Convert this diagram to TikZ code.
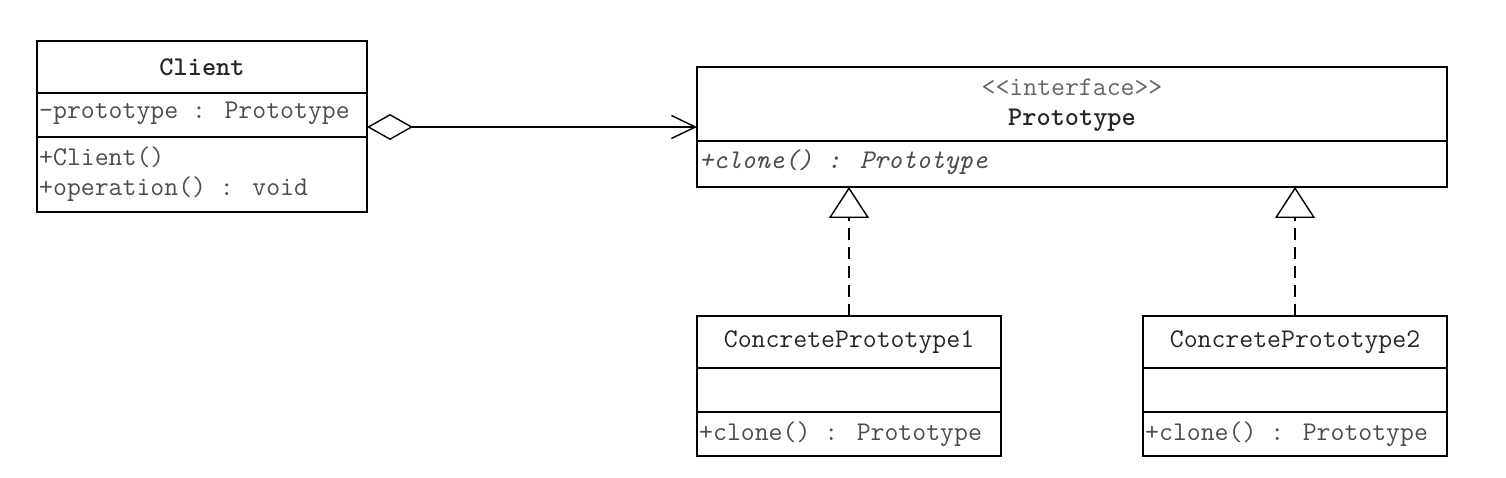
\documentclass[tikz,border=0pt]{standalone}
\usepackage{fontspec}
\usetikzlibrary{arrows.meta,positioning}

\begin{document}
\begin{tikzpicture}[x=1pt,y=1pt,line join=miter,
  cell/.style={draw,line width=1.4pt,inner sep=0pt,outer sep=0pt},
  boldname/.style={font=\fontsize{27}{30}\selectfont\ttfamily\bfseries,text=black!85},
  plainname/.style={font=\fontsize{27}{30}\selectfont\ttfamily,text=black!85},
  member/.style={font=\fontsize{27}{30}\selectfont\ttfamily,text=black!70,anchor=west,inner sep=0pt},
  stereo/.style={font=\fontsize{27}{30}\selectfont\ttfamily,text=black!60},
  aggr/.style={line width=1.4pt,{Diamond[open,length=46pt,width=26pt]}-{Straight Barb[length=24pt,width=23pt]}},
  realize/.style={line width=1.4pt,dash pattern=on 12pt off 7pt,-{Triangle[open,length=31pt,width=40pt]}}]

\useasboundingbox[fill=white] (0,0) rectangle (1506,478);

% Client class.
\node[cell,boldname,minimum width=330pt,minimum height=52pt] (cname) at (202,411) {Client};
\node[cell,minimum width=330pt,minimum height=44pt,below=0pt of cname] (cattr) {};
\node[cell,minimum width=330pt,minimum height=75pt,below=0pt of cattr] (cops) {};
\node[member] at ([xshift=2pt,yshift=2pt]cattr.west) {-prototype : Prototype};
\node[member] at ([xshift=2pt,yshift=17pt]cops.west) {+Client()};
\node[member] at ([xshift=2pt,yshift=-15pt]cops.west) {+operation() : void};

% Prototype interface.
\node[cell,minimum width=750pt,minimum height=74pt] (pname) at (1072,374) {};
\node[stereo] at ([yshift=17pt]pname.center) {\textless\textless interface\textgreater\textgreater};
\node[boldname] at ([yshift=-16pt]pname.center) {Prototype};
\node[cell,minimum width=750pt,minimum height=46pt,below=0pt of pname] (pops) {};
\node[member,font=\fontsize{27}{30}\selectfont\ttfamily\itshape] at ([xshift=2pt,yshift=2pt]pops.west) {+clone() : Prototype};

% Client holds a Prototype.
\draw[aggr] ([yshift=-12pt]cattr.east) -- ([yshift=-12pt]cattr.east -| pname.west);

% Concrete prototypes realize the interface.
\foreach \k/\xx in {1/849,2/1295}
{
  \node[cell,plainname,minimum width=304pt,minimum height=52pt] (cpname\k) at (\xx,136) {ConcretePrototype\k};
  \node[cell,minimum width=304pt,minimum height=44pt,below=0pt of cpname\k] (cpattr\k) {};
  \node[cell,minimum width=304pt,minimum height=44pt,below=0pt of cpattr\k] (cpops\k) {};
  \node[member] at ([xshift=2pt]cpops\k.west) {+clone() : Prototype};
  \draw[realize] (cpname\k.north) -- (cpname\k.north |- pops.south);
}

\end{tikzpicture}
\end{document}
